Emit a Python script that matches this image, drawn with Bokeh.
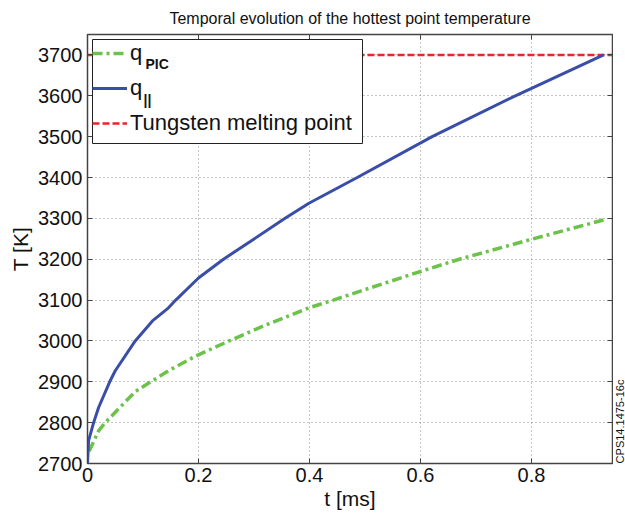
from bokeh.plotting import figure
from bokeh.layouts import row
from bokeh.models import (Range1d, FixedTicker, LinearAxis, Legend, LegendItem, Label,
                          BoxAnnotation)
from bokeh.core.properties import value
from bokeh.embed import file_html
from bokeh.resources import INLINE

# ---- data ----
t_par = [0.0, 0.002, 0.011, 0.020, 0.040, 0.050, 0.086, 0.117, 0.146, 0.159,
         0.200, 0.245, 0.294, 0.356, 0.399, 0.486, 0.621, 0.771, 0.930]
T_par = [2700, 2756, 2800, 2837, 2900, 2927, 3000, 3049, 3081, 3100,
         3154, 3200, 3244, 3300, 3337, 3400, 3500, 3600, 3700]

t_pic = [0.003, 0.005, 0.020, 0.032, 0.086, 0.114, 0.146, 0.195, 0.255, 0.318,
         0.399, 0.443, 0.492, 0.600, 0.670, 0.798, 0.935]
T_pic = [2730, 2736, 2780, 2800, 2876, 2900, 2927, 2963, 3000, 3037,
         3081, 3100, 3122, 3170, 3200, 3248, 3298]

t_melt = [0.0, 0.946]
T_melt = [3700, 3700]

x_ticks = [0, 0.2, 0.4, 0.6, 0.8]
x_tick_labels = ["0", "0.2", "0.4", "0.6", "0.8"]
y_ticks = [2700, 2800, 2900, 3000, 3100, 3200, 3300, 3400, 3500, 3600, 3700]
figure_id = ["CPS14.1475-16c"]

FONT = "Liberation Sans"

p = figure(width=613, height=517, output_backend="svg", toolbar_location=None,
           x_range=Range1d(0, 0.946), y_range=Range1d(2700, 3750),
           min_border_left=87, min_border_right=1, min_border_top=34,
           min_border_bottom=54)

p.title.text = "Temporal evolution of the hottest point temperature"
p.title.text_font = FONT
p.title.text_font_size = "16px"
p.title.text_font_style = "normal"
p.title.align = "center"
p.title.text_color = "#111111"
p.title.standoff = 15
p.title.text_line_height = 1.0

p.outline_line_color = "#444444"
p.outline_line_width = 1.5

for ax in (p.xaxis[0], p.yaxis[0]):
    ax.major_label_text_font = FONT
    ax.major_label_text_font_size = "20px"
    ax.major_label_text_color = "#111111"
    ax.axis_label_text_font = FONT
    ax.axis_label_text_font_size = "21px"
    ax.axis_label_text_font_style = "normal"
    ax.axis_label_text_color = "#111111"
    ax.major_tick_in = 5
    ax.major_tick_out = 0
    ax.minor_tick_line_color = None
    ax.axis_line_color = "#444444"
    ax.major_tick_line_color = "#444444"

p.xaxis[0].ticker = FixedTicker(ticks=x_ticks)
p.xaxis[0].major_label_overrides = {k: v for k, v in zip(x_ticks, x_tick_labels)}
p.xaxis[0].axis_label = "t [ms]"
p.xaxis[0].major_label_standoff = 4
p.xaxis[0].axis_label_standoff = 2

p.yaxis[0].ticker = FixedTicker(ticks=y_ticks)
p.yaxis[0].axis_label = "T [K]"
p.yaxis[0].major_label_standoff = 5
p.yaxis[0].axis_label_standoff = 3

# mirrored tick marks on the right and on top (labels not drawn)
for side_name, ticks in (("right", y_ticks), ("above", x_ticks)):
    ax = LinearAxis(ticker=FixedTicker(ticks=ticks),
                    major_label_text_font_size="1px", major_label_text_alpha=0,
                    major_label_text_color=None,
                    major_tick_in=5, major_tick_out=0,
                    minor_tick_line_color=None, axis_line_color="#444444",
                    major_tick_line_color="#444444", major_label_standoff=0)
    p.add_layout(ax, side_name)

p.xgrid.ticker = FixedTicker(ticks=x_ticks)
p.ygrid.ticker = FixedTicker(ticks=y_ticks)
for g in (p.xgrid[0], p.ygrid[0]):
    g.grid_line_color = "#8a8a8a"
    g.grid_line_dash = "1 3"
    g.grid_line_width = 1

r_melt = p.line(t_melt, T_melt, line_color="#e8262a", line_width=2.5, line_dash="7 3")
r_pic = p.line(t_pic, T_pic, line_color="#6cc24a", line_width=3.5, line_dash="10 4 3 4")
r_par = p.line(t_par, T_par, line_color="#3a4ea8", line_width=3)

# legend frame (white box with border), drawn beneath the transparent legend
p.add_layout(BoxAnnotation(left=5, right=275, top=424, bottom=320,
                           left_units="screen", right_units="screen",
                           top_units="screen", bottom_units="screen",
                           fill_color="white", fill_alpha=1.0,
                           line_color="#222222", line_width=1, line_alpha=1.0))

legend = Legend(items=[LegendItem(label="q", renderers=[r_pic]),
                       LegendItem(label="q", renderers=[r_par]),
                       LegendItem(label="Tungsten melting point", renderers=[r_melt])],
                location="top_left", margin=5, padding=3, spacing=7,
                glyph_width=35, glyph_height=28, label_height=28, label_standoff=3,
                label_text_font=FONT, label_text_font_size="22px",
                label_text_color="#111111",
                border_line_color=None, background_fill_alpha=0.0)
p.add_layout(legend)

# subscripts of the legend labels
p.add_layout(Label(x=145 - 87, y=463 - 63, x_units="screen", y_units="screen",
                   text="PIC", text_font=FONT, text_font_size="14px",
                   text_font_style="bold", text_baseline="middle", text_color="#111111"))
p.add_layout(Label(x=143 - 87, y=463 - 99, x_units="screen", y_units="screen",
                   text="||", text_font=FONT, text_font_size="14px",
                   text_font_style="bold", text_baseline="middle", text_color="#111111"))

# narrow strip on the right carrying the figure id; its frame is aligned with
# the main frame by the row layout, so its ranges are in frame pixels (429 high)
side = figure(width=12, height=517, output_backend="svg", toolbar_location=None,
              x_range=Range1d(0, 12), y_range=Range1d(0, 429),
              x_axis_type=None, y_axis_type=None,
              min_border=0, outline_line_color=None)
side.grid.visible = False
side.text(x=[6], y=[463 - 421], text=figure_id, angle=90, angle_units="deg",
          text_font=value(FONT), text_font_size=value("11px"),
          text_align=value("center"), text_baseline=value("middle"),
          text_color="#111111")

layout = row(p, side, spacing=0)
open("out.html", "w").write(file_html(layout, INLINE))
